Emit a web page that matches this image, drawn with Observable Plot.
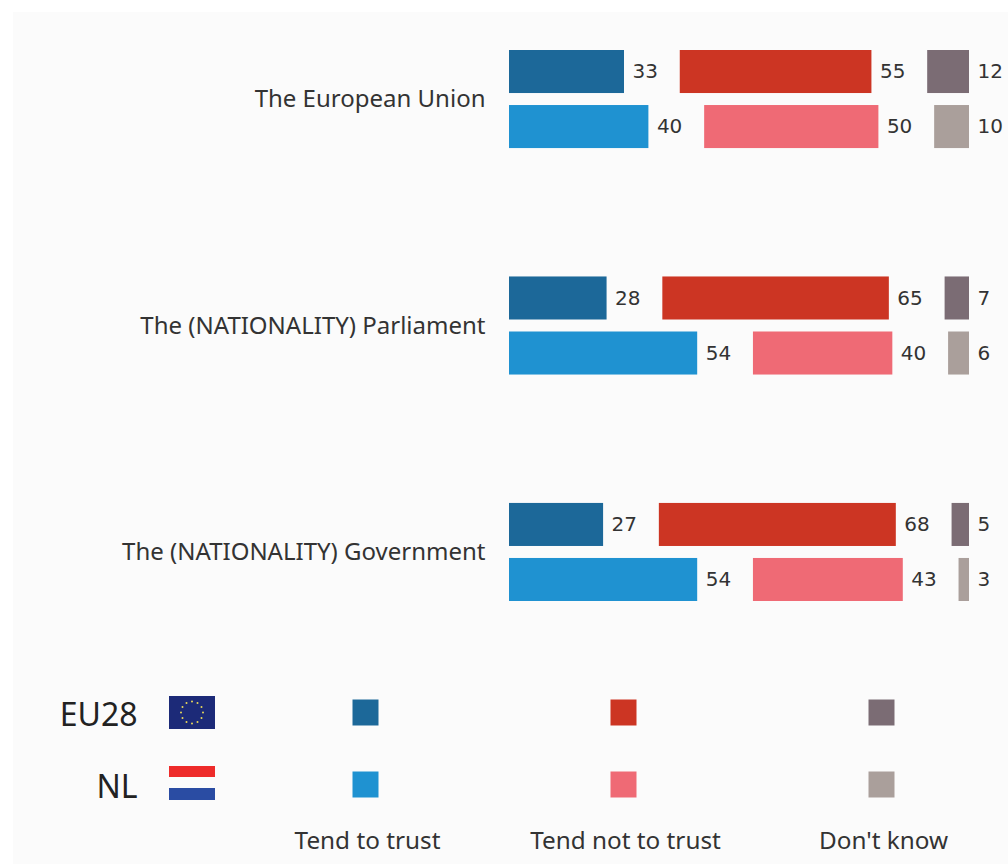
<!DOCTYPE html>
<html><head><meta charset="utf-8">
<script src="https://cdn.jsdelivr.net/npm/d3@7"></script>
<script src="https://cdn.jsdelivr.net/npm/@observablehq/plot@0.6"></script>
<style>
html,body{margin:0;padding:0;background:#fff;width:1008px;height:864px;overflow:hidden}
#wrap{position:relative;width:1008px;height:864px}
#panel{position:absolute;left:13px;top:12px;right:0;bottom:0;background:#fbfbfb}
#chart{position:absolute;left:0;top:0}
#legend{position:absolute;left:0;top:650px}
.flag{position:absolute;left:169px;width:46px}
</style></head><body>
<div id="wrap"><div id="panel"></div><div id="chart"></div><div id="legend"></div>
<svg class="flag" style="top:696px;height:33px" viewBox="0 0 46 33" id="eu"><rect width="46" height="33" fill="#1c2a78"/></svg>
<svg class="flag" style="top:766px;height:34px" viewBox="0 0 46 34"><rect width="46" height="11" fill="#ee2b2a"/><rect y="22" width="46" height="12" fill="#2a4ca3"/></svg>
</div>
<script>
const institutions = ["The European Union","The (NATIONALITY) Parliament","The (NATIONALITY) Government"];
const areas = ["EU28","NL"];
const answers = ["Tend to trust","Tend not to trust","Don't know"];
const eu28Trust = [33,28,27];
const eu28NotTrust = [55,65,68];
const eu28DontKnow = [12,7,5];
const nlTrust = [40,54,54];
const nlNotTrust = [50,40,43];
const nlDontKnow = [10,6,3];
const colours = {
  EU28:["#1c6899","#cc3523","#7b6c74"],
  NL:["#1f92d1","#ef6a75","#aa9f9b"]
};
const gap = 16;

const rows = [];
institutions.forEach((inst,i)=>{
  [["EU28",eu28Trust,eu28NotTrust,eu28DontKnow],["NL",nlTrust,nlNotTrust,nlDontKnow]].forEach(([area,a,b,c])=>{
    let start = 0;
    [a[i],b[i],c[i]].forEach((v,k)=>{
      rows.push({inst,area,answer:answers[k],value:v,x1:start,x2:start+v,fill:colours[area][k]});
      start += v+gap;
    });
  });
});
const sans = "'Noto Sans',sans-serif";
const chart = Plot.plot({
  width:1008,height:650,marginTop:50,marginBottom:49,marginLeft:509,marginRight:39,
  style:{background:"transparent",fontFamily:sans},
  x:{domain:[0,100+2*gap],axis:null},
  y:{domain:areas,axis:null,paddingInner:0.218,paddingOuter:0,round:false},
  fy:{domain:institutions,paddingInner:0.567,paddingOuter:0,round:false,label:null},
  marks:[
    Plot.axisFy({anchor:"left",tickSize:0,tickPadding:24,label:null,fontSize:24,fill:"#333"}),
    Plot.barX(rows,{x1:"x1",x2:"x2",y:"area",fy:"inst",fill:"fill"}),
    Plot.text(rows,{x:"x2",y:"area",fy:"inst",text:d=>String(d.value),textAnchor:"start",dx:8,fontSize:20,fontFamily:"'DejaVu Sans',sans-serif",fill:"#333"})
  ]
});
document.getElementById("chart").append(chart);

const keyRows = [];
areas.forEach(area=>answers.forEach((answer,k)=>keyRows.push({area,answer,fill:colours[area][k]})));
const legend = Plot.plot({
  width:1008,height:214,marginLeft:137,marginBottom:41,marginTop:0,marginRight:0,
  style:{background:"transparent",fontFamily:sans},
  x:{type:"point",domain:answers,range:[365,881],padding:0,label:null},
  y:{type:"point",domain:areas,range:[62,134],padding:0,label:null},
  marks:[
    Plot.axisX({anchor:"bottom",tickSize:0,tickPadding:8,label:null,fontSize:24.3,fill:"#333",dx:2}),
    Plot.axisY({anchor:"left",tickSize:0,tickPadding:0,label:null,fontSize:32,fill:"#222",dy:3}),
    Plot.dot(keyRows,{x:"answer",y:"area",fill:"fill",symbol:"square",r:14.67})
  ]
});
document.getElementById("legend").append(legend);

const eu = d3.select("#eu");
eu.selectAll("circle").data(d3.range(12)).join("circle")
  .attr("cx",i=>23+11*Math.cos(i*Math.PI/6)).attr("cy",i=>16.5+11*Math.sin(i*Math.PI/6))
  .attr("r",1).attr("fill","#e9d85a");
</script></body></html>
